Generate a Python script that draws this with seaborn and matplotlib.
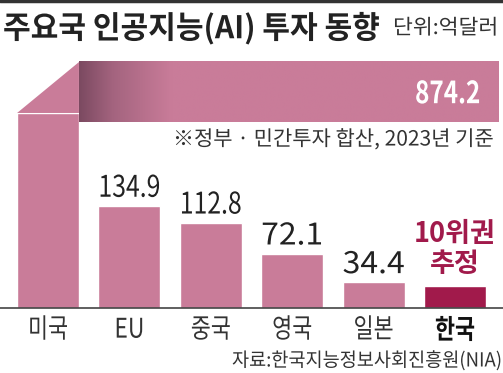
import numpy as np
import matplotlib.pyplot as plt
import seaborn as sns
from matplotlib.patches import Polygon
from matplotlib.colors import LinearSegmentedColormap
from matplotlib.patheffects import AbstractPathEffect
from matplotlib.transforms import Affine2D

# data (억달러, 2023)
countries = ["미국", "EU", "중국", "영국", "일본", "한국"]
investment = [874.2, 134.9, 112.8, 72.1, 34.4, 30.0]
value_labels = ["874.2", "134.9", "112.8", "72.1", "34.4", "10위권\n추정"]

PINK = "#c97c99"
KOREA = "#a11a4b"
DARK = "#7c4a61"
INK = "#222222"
KR = ["Noto Sans CJK KR", "DejaVu Sans"]


class Squeeze(AbstractPathEffect):
    """Horizontally condense text around an anchor x (display px)."""

    def __init__(self, sx, x0):
        super().__init__()
        self.sx, self.x0 = sx, x0

    def draw_path(self, renderer, gc, tpath, affine, rgbFace=None):
        squeeze = Affine2D().translate(-self.x0, 0).scale(self.sx, 1).translate(self.x0, 0)
        renderer.draw_path(gc, tpath, affine + squeeze, rgbFace)


def condense(txt, target_w, anchor):
    bb = txt.get_window_extent(fig.canvas.get_renderer())
    x0 = {"left": bb.x0, "center": (bb.x0 + bb.x1) / 2, "right": bb.x1}[anchor]
    txt.set_path_effects([Squeeze(target_w / bb.width, x0)])


sns.set_style("white")
plt.rcParams["font.family"] = KR

W, H = 503, 373
fig = plt.figure(figsize=(W / 100, H / 100), dpi=100)
base_px = 308.3
ax = fig.add_axes([0, (H - base_px) / H, 1, base_px / H])

colors = [PINK] * (len(countries) - 1) + [KOREA]
sns.barplot(x=countries, y=investment, hue=countries, palette=colors,
            legend=False, width=0.76, saturation=1, ax=ax)

px_per_unit = 0.76
ax.set_ylim(0, base_px / px_per_unit)
ax.set_xlim(-0.59, 5.59)
ax.set_xlabel("")
ax.set_ylabel("")
ax.set_yticks([])
for s in ["top", "left", "right"]:
    ax.spines[s].set_visible(False)
ax.spines["bottom"].set_color("#444444")
ax.spines["bottom"].set_linewidth(1.2)
ax.tick_params(axis="x", length=0, pad=6, labelsize=19.5, labelcolor="#333333")
ax.get_xticklabels()[-1].set_fontweight("bold")
ax.get_xticklabels()[-1].set_color("#111111")

# broken US bar folded into a horizontal band
fold_lo, fold_hi, band_lo = 257, 324, 245
us = ax.patches[0]
x0, x1 = us.get_x(), us.get_x() + us.get_width()
us.set_height(fold_lo)
ax.add_patch(Polygon([(x0, fold_lo), (x1, fold_hi), (x1, fold_lo)],
                     closed=True, color=PINK, lw=0))
band_right = 5.53
cmap = LinearSegmentedColormap.from_list(
    "fold", [(0, DARK), (0.08, "#a4647f"), (0.22, PINK), (1, PINK)])
grad = np.linspace(0, 1, 256).reshape(1, -1)
ax.imshow(grad, cmap=cmap, aspect="auto",
          extent=[x1, band_right, band_lo, fold_hi], zorder=2)
us_label = ax.annotate(value_labels[0], xy=(band_right, (band_lo + fold_hi) / 2),
                       xytext=(-13, -8), textcoords="offset points", ha="right",
                       va="baseline", color="white", fontsize=22,
                       fontweight="bold", zorder=3)

# value labels above the other bars
num_labels = []
for i, p in enumerate(ax.patches[1:len(countries)], start=1):
    top = p.get_height()
    cx = p.get_x() + p.get_width() / 2
    if i == len(countries) - 1:
        lines = value_labels[i].split("\n")
        for k, line in enumerate(lines):
            dy = 10 + 21 * (len(lines) - 1 - k)
            ax.annotate(line, xy=(cx, top), xytext=(0, dy),
                        textcoords="offset points", ha="center", va="baseline",
                        color=KOREA, fontsize=19.5, fontweight="bold")
    else:
        t = ax.annotate(value_labels[i], xy=(cx, top), xytext=(0, 6.5),
                        textcoords="offset points", ha="center", va="baseline",
                        color=INK, fontsize=21.5, fontweight="medium")
        num_labels.append(t)

# titles and notes
fig.add_artist(plt.Line2D([0, 1], [1 - 1 / H, 1 - 1 / H], color="#333333", lw=2.5))
title = fig.text(3 / W, 1 - 29 / H, "주요국 인공지능(AI) 투자 동향", ha="left",
                 va="center", fontsize=22.5, fontweight="bold", color=INK)
unit = fig.text(498 / W, 1 - 28 / H, "단위:억달러", ha="right", va="center",
                fontsize=15, color="#333333")
note = fig.text(493 / W, 1 - 139.5 / H, "※정부 · 민간투자 합산, 2023년 기준",
                ha="right", va="center", fontsize=15, color="#333333")
source = fig.text(502 / W, 1 - 361 / H, "자료:한국지능정보사회진흥원(NIA)",
                  ha="right", va="center", fontsize=14, color="#333333")

# squeeze the condensed newspaper lettering to the reference widths
fig.canvas.draw()
condense(title, 377, "left")
condense(unit, 105, "right")
condense(note, 320, "right")
condense(source, 270, "right")
condense(us_label, 65, "right")
for t in num_labels:
    condense(t, 62 if "." in t.get_text()[:4] else 50, "center")
for lab in ax.get_xticklabels():
    condense(lab, 30 if lab.get_text() == "EU" else 40, "center")

fig.savefig("out.png", dpi=100)
